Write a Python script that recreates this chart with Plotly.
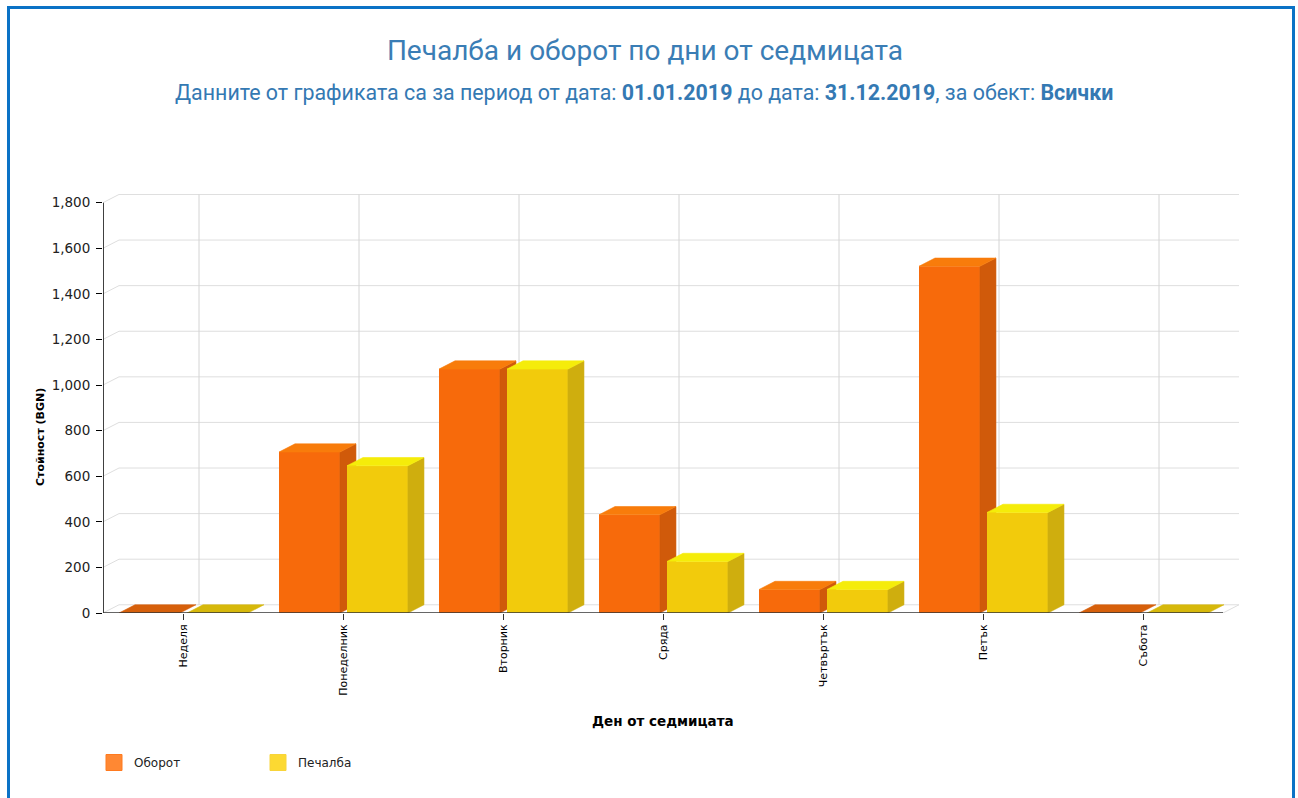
import plotly.graph_objects as go

# ---------------- data ----------------
days = ["Неделя", "Понеделник", "Вторник", "Сряда", "Четвъртък", "Петък", "Събота"]
turnover = [0, 706, 1070, 431, 103, 1521, 0]
profit = [0, 646, 1070, 226, 103, 441, 0]
y_ticks = [0, 200, 400, 600, 800, 1000, 1200, 1400, 1600, 1800]
series_names = ["Оборот", "Печалба"]

title_text = "Печалба и оборот по дни от седмицата"
date_from = "01.01.2019"
date_to = "31.12.2019"
object_name = "Всички"
x_title = "Ден от седмицата"
y_title = "Стойност (BGN)"

# ---------------- geometry / style ----------------
W, H = 1298, 798
ML, MR, MT, MB = 103, 59, 194, 185
DX = 0.1      # 3D depth along category axis (units)
DY = 36       # 3D depth along value axis (units)
BAR_W = 0.381
OFFSETS = [-0.40, 0.025]
XR = [-0.5, len(days) - 0.5 + DX]
YR = [0, 1838]

styles = [
    dict(front="#F76A0B", side="#D05A0A", top="#F87C0B", flat="#D6600B",
         legend="#FF8833", legend_line="#FF7A1F"),
    dict(front="#F2CB0C", side="#CFAE0E", top="#F5EC0A", flat="#D6B80B",
         legend="#FCD932", legend_line="#F8D43A"),
]
axes = [("x", "y"), ("x2", "y2")]
xs = list(range(len(days)))


def faces(vals, off):
    side_x, side_y, top_x, top_y, flat_x, flat_y = [], [], [], [], [], []
    for i, v in zip(xs, vals):
        x0 = i + off
        x1 = x0 + BAR_W
        if v > 0:
            side_x += [x1, x1 + DX, x1 + DX, x1, x1, None]
            side_y += [0, DY, v + DY, v, 0, None]
            top_x += [x0, x0 + DX, x1 + DX, x1, x0, None]
            top_y += [v, v + DY, v + DY, v, v, None]
        else:
            flat_x += [x0, x0 + DX, x1 + DX, x1, x0, None]
            flat_y += [v, v + DY, v + DY, v, v, None]
    return (side_x, side_y), (top_x, top_y), (flat_x, flat_y)


fig = go.Figure()

for k, (vals, name) in enumerate(zip([turnover, profit], series_names)):
    st = styles[k]
    xa, ya = axes[k]
    off = OFFSETS[k]
    fig.add_trace(go.Bar(
        x=xs, y=vals, width=BAR_W, offset=off, name=name,
        marker=dict(color=st["front"], line=dict(width=0)),
        xaxis=xa, yaxis=ya, showlegend=False, legendgroup=name,
        hovertemplate=name + ": %{y}<extra></extra>",
    ))
    side, top, flat = faces(vals, off)
    for (px, py), col in [(side, st["side"]), (top, st["top"]), (flat, st["flat"])]:
        if not px:
            continue
        fig.add_trace(go.Scatter(
            x=px, y=py, mode="lines", fill="toself", fillcolor=col,
            line=dict(color=col, width=0.6), xaxis=xa, yaxis=ya,
            showlegend=False, hoverinfo="skip", legendgroup=name,
        ))

# legend entries (square swatches)
for k, name in enumerate(series_names):
    st = styles[k]
    fig.add_trace(go.Scatter(
        x=[None], y=[None], mode="markers", name=name, legendgroup=name,
        marker=dict(symbol="square", size=20, color=st["legend"],
                    line=dict(color=st["legend_line"], width=1)),
    ))

# ---------------- back wall grid (3D) ----------------
shapes = []
grid_col = "#DEDEDE"
for t in y_ticks:
    shapes.append(dict(type="line", xref="x", yref="y", layer="below",
                       x0=XR[0] + DX, x1=len(days) - 0.5 + DX, y0=t + DY, y1=t + DY,
                       line=dict(color=grid_col, width=1)))
    shapes.append(dict(type="line", xref="x", yref="y", layer="below",
                       x0=XR[0], x1=XR[0] + DX, y0=t, y1=t + DY,
                       line=dict(color=grid_col, width=1)))
for i in xs:
    shapes.append(dict(type="line", xref="x", yref="y", layer="below",
                       x0=i + DX, x1=i + DX, y0=DY, y1=y_ticks[-1] + DY,
                       line=dict(color="#D4D4D4", width=1)))
shapes.append(dict(type="line", xref="x", yref="y", layer="below",
                   x0=len(days) - 0.5, x1=len(days) - 0.5 + DX, y0=0, y1=DY,
                   line=dict(color=grid_col, width=1)))
# axis lines
shapes.append(dict(type="line", xref="x", yref="y", layer="above",
                   x0=XR[0], x1=XR[0], y0=0, y1=y_ticks[-1],
                   line=dict(color="#000000", width=1.5)))
shapes.append(dict(type="line", xref="x", yref="y", layer="above",
                   x0=XR[0], x1=len(days) - 0.5, y0=0, y1=0,
                   line=dict(color="#333333", width=1.5)))

# page frame
pw = W - ML - MR
ph = H - MT - MB


def px2paper_x(p):
    return (p - ML) / pw


def px2paper_y(p):
    return (H - MB - p) / ph


shapes.append(dict(type="path", xref="paper", yref="paper", layer="above",
                   path="M {l},{b} L {l},{t} L {r},{t} L {r},{b}".format(
                       l=px2paper_x(8.5), r=px2paper_x(1293.5),
                       t=px2paper_y(7.5), b=px2paper_y(805)),
                   line=dict(color="#0B72C6", width=3)))

annotations = [
    dict(xref="paper", yref="paper", x=px2paper_x(644), y=px2paper_y(92),
         xanchor="center", yanchor="middle", showarrow=False,
         text=("Данните от графиката са за период от дата: <b>{}</b> до дата: "
               "<b>{}</b>, за обект: <b>{}</b>").format(date_from, date_to, object_name),
         font=dict(family="Roboto", size=21.4, color="#3479B3")),
    dict(xref="paper", yref="paper", x=px2paper_x(663), y=px2paper_y(721),
         xanchor="center", yanchor="middle", showarrow=False,
         text="<b>" + x_title + "</b>",
         font=dict(family="DejaVu Sans", size=13.5, color="#000000")),
    dict(xref="paper", yref="paper", x=px2paper_x(40), y=px2paper_y(437),
         xanchor="center", yanchor="middle", showarrow=False, textangle=-90,
         text="<b>" + y_title + "</b>",
         font=dict(family="DejaVu Sans", size=11, color="#000000")),
]

fig.update_layout(
    width=W, height=H,
    margin=dict(l=ML, r=MR, t=MT, b=MB, pad=0),
    paper_bgcolor="#FFFFFF", plot_bgcolor="rgba(0,0,0,0)",
    barmode="overlay",
    title=dict(text=title_text, x=645 / W, xanchor="center",
               y=1 - 50 / H, yanchor="middle", xref="container", yref="container",
               font=dict(family="Roboto", size=28, color="#3A7DB5")),
    xaxis=dict(range=XR, tickvals=xs, ticktext=days, tickangle=-90,
               ticks="outside", ticklen=6, tickcolor="#333333", tickwidth=1,
               showgrid=False, zeroline=False, showline=False,
               tickfont=dict(family="DejaVu Sans", size=11, color="#000000")),
    yaxis=dict(range=YR, tickvals=y_ticks, tickformat=",d",
               ticks="outside", ticklen=6, tickcolor="#000000", tickwidth=1,
               ticklabelstandoff=3,
               showgrid=False, zeroline=False, showline=False,
               tickfont=dict(family="DejaVu Sans", size=13.5, color="#222222")),
    xaxis2=dict(range=XR, overlaying="x", anchor="y2", visible=False),
    yaxis2=dict(range=YR, overlaying="y", anchor="x2", visible=False),
    legend=dict(orientation="h", x=px2paper_x(94), y=px2paper_y(748),
                xanchor="left", yanchor="top", traceorder="normal",
                entrywidth=119, entrywidthmode="pixels",
                font=dict(family="DejaVu Sans", size=12, color="#222222"),
                bgcolor="rgba(0,0,0,0)"),
    shapes=shapes,
    annotations=annotations,
    showlegend=True,
)

fig.write_html("out.html", include_plotlyjs=True,
               config={"displayModeBar": False},
               post_script="document.body.style.margin='0';document.documentElement.style.overflow='hidden';")
